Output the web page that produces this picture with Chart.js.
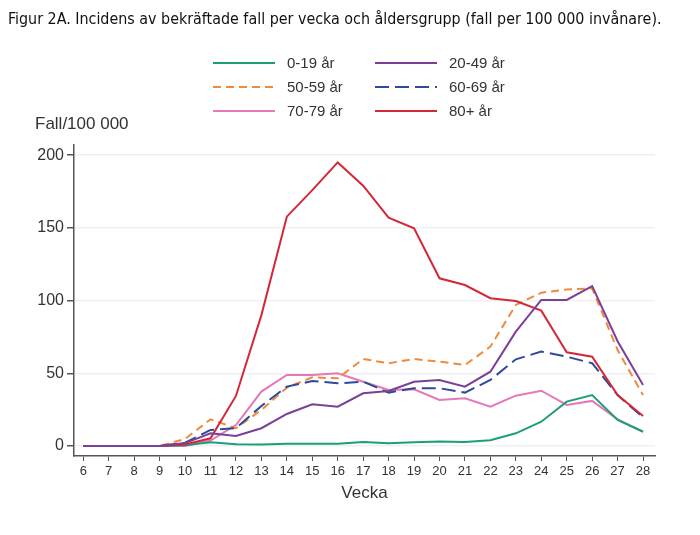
<!DOCTYPE html>
<html>
<head>
<meta charset="utf-8">
<script src="https://cdn.jsdelivr.net/npm/chart.js@4"></script>
<style>
  html, body { margin: 0; padding: 0; background: #fff; }
  #wrap { position: relative; width: 700px; height: 535px; overflow: hidden; }
  #chart { position: absolute; left: 0; top: 0; }
  #title { position: absolute; left: 8px; top: 9px; font-family: "DejaVu Sans Condensed", "DejaVu Sans", sans-serif; font-size: 14px; color: #111; white-space: nowrap; }
  #ytitle { position: absolute; left: 35px; top: 114px; font-family: "Liberation Sans", Arial, sans-serif; font-size: 17px; color: #333; white-space: nowrap; }
  .leg { position: absolute; font-family: "Liberation Sans", Arial, sans-serif; font-size: 15px; color: #333; white-space: nowrap; }
  .leg svg { position: absolute; left: 0; top: 0; }
  .leg span { position: absolute; top: -9px; }
</style>
</head>
<body>
<div id="wrap">
  <canvas id="chart" width="700" height="535"></canvas>
  <div id="title">Figur 2A. Incidens av bekräftade fall per vecka och åldersgrupp (fall per 100 000 invånare).</div>
  <div id="ytitle">Fall/100 000</div>
</div>
<script>
// weeks on the x axis
const weeks = [6, 7, 8, 9, 10, 11, 12, 13, 14, 15, 16, 17, 18, 19, 20, 21, 22, 23, 24, 25, 26, 27, 28];
const yTicks = [0, 50, 100, 150, 200];

// cases per 100 000, per age group
const age0_19  = [0, 0, 0, 0, 0.5, 2.5, 1.2, 1, 1.6, 1.5, 1.5, 2.7, 1.8, 2.5, 3, 2.8, 4, 8.7, 16.7, 30.5, 35, 17.9, 9.8];
const age20_49 = [0, 0, 0, 0, 2, 8.7, 6.9, 12.2, 22, 28.7, 27, 36.2, 37.8, 44.2, 45.4, 40.8, 51.1, 78.6, 100.4, 100.4, 110, 72, 42];
const age50_59 = [0, 0, 0, 0, 4.8, 18.3, 12.2, 24.8, 40.1, 47.2, 46.5, 59.8, 56.9, 59.8, 58, 55.7, 68.3, 97, 105.4, 107.7, 108.4, 66, 35];
const age60_69 = [0, 0, 0, 0, 2.3, 11, 12.2, 27.5, 40.8, 44.7, 43.1, 44.2, 36.7, 39.7, 39.7, 36.7, 45.4, 59.6, 64.9, 61.4, 56.9, 35, 19.7];
const age70_79 = [0, 0, 0, 0, 0, 3.7, 14.4, 37.4, 48.8, 48.8, 50, 44.2, 38.5, 39, 31.6, 32.8, 27, 34.6, 38, 28.2, 31, 18.3, 9.8];
const age80    = [0, 0, 0, 0, 1, 5.3, 34.4, 90, 157.7, 176, 195, 179, 157, 149.7, 115.3, 110.7, 101.6, 99.7, 93.1, 64.4, 61.4, 35, 20.6];

const labels = ['0-19 år', '20-49 år', '50-59 år', '60-69 år', '70-79 år', '80+ år'];
const series = [age0_19, age20_49, age50_59, age60_69, age70_79, age80];
const colors = ['#1d9e7a', '#7b3f98', '#ef8a3c', '#2d4a9b', '#e677b8', '#d3283a'];
const dashes = [[], [], [8, 5], [14, 6], [], []];
const drawOrder = [3, 0, 4, 2, 5, 1];

// fit the heading to its width in the reference
(function () {
  const t = document.getElementById('title');
  const w = t.getBoundingClientRect().width;
  t.style.fontSize = (14 * 654 / w).toFixed(2) + 'px';
})();

const datasets = series.map((vals, i) => ({
  label: labels[i],
  data: vals.map((v, j) => ({ x: weeks[j], y: v })),
  borderColor: colors[i],
  backgroundColor: colors[i],
  borderDash: dashes[i],
  borderWidth: 2,
  pointRadius: 0,
  tension: 0,
  order: drawOrder[i]
}));

// two column legend, row by row
const legX = [213, 375];
const legY = [63, 87, 111];
series.forEach((_, i) => {
  const d = document.createElement('div');
  d.className = 'leg';
  d.style.left = legX[i % 2] + 'px';
  d.style.top = legY[Math.floor(i / 2)] + 'px';
  const dash = dashes[i].length ? ` stroke-dasharray="${dashes[i].join(' ')}"` : '';
  d.innerHTML = `<svg width="64" height="4" style="top:-2px"><line x1="0" y1="2" x2="62" y2="2" stroke="${colors[i]}" stroke-width="2"${dash}/></svg><span style="left:74px">${labels[i]}</span>`;
  document.getElementById('wrap').appendChild(d);
});

new Chart(document.getElementById('chart'), {
  type: 'line',
  data: { datasets: datasets },
  options: {
    responsive: false,
    animation: false,
    layout: { padding: { left: 0, top: 145, right: 45, bottom: 27 } },
    plugins: {
      legend: { display: false },
      tooltip: { enabled: false }
    },
    scales: {
      x: {
        type: 'linear',
        min: 5.635,
        max: 28.47,
        afterBuildTicks: (s) => { s.ticks = weeks.map(v => ({ value: v })); },
        afterFit: (s) => { s.height = 52; },
        grid: { drawOnChartArea: false, drawTicks: true, tickLength: 5, color: '#555', tickColor: '#555' },
        border: { color: '#555', width: 1.5 },
        ticks: { autoSkip: false, maxRotation: 0, padding: 3, color: '#333', font: { family: 'Liberation Sans', size: 13 } },
        title: { display: true, text: 'Vecka', color: '#333', font: { family: 'Liberation Sans', size: 17 }, padding: { top: 4, bottom: 4 } }
      },
      y: {
        min: -6.9,
        max: 207,
        afterBuildTicks: (s) => { s.ticks = yTicks.map(v => ({ value: v })); },
        afterFit: (s) => { s.width = 74; },
        grid: { color: '#edf1f3', lineWidth: 1.5, tickLength: 7, tickColor: '#555' },
        border: { color: '#555', width: 1.5 },
        ticks: { padding: 3, color: '#333', font: { family: 'Liberation Sans', size: 16 } }
      }
    }
  }
});
</script>
</body>
</html>
